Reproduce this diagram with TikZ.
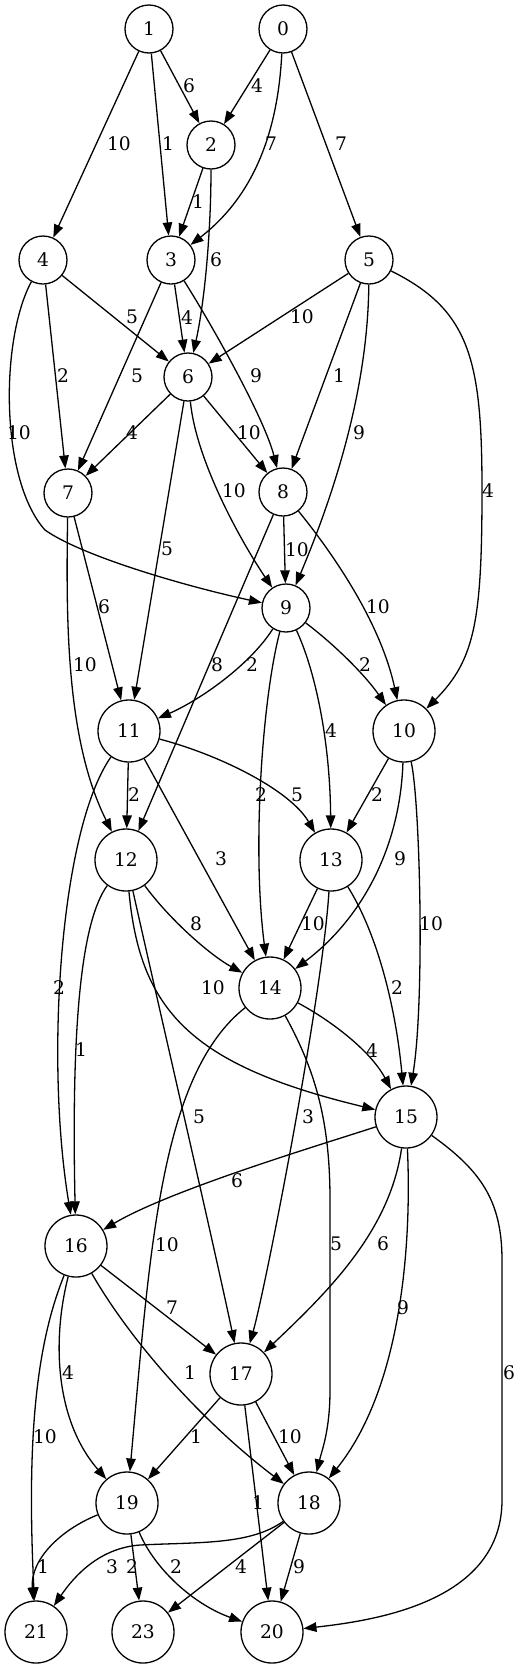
\documentclass[tikz,border=0pt]{standalone}
\usepackage{fontspec}
\setmainfont{DejaVu Serif}
\usetikzlibrary{arrows.meta}

\begin{document}
\begin{tikzpicture}[
    x=1pt,y=-1pt,
    vertex/.style={circle,draw,line width=1.3pt,minimum size=48pt,inner sep=0pt,
                   font=\fontsize{18.67}{22}\selectfont},
    bignode/.style={vertex,minimum size=62pt},
    link/.style={-{Triangle[length=13pt,width=9.5pt]},line width=1.3pt},
    wlbl/.style={inner sep=0pt,font=\fontsize{18.67}{22}\selectfont}
]
    \useasboundingbox (0,0) rectangle (522,1668);

    % Vertices
    \node[vertex] (v1) at (149,29) {1};
    \node[vertex] (v0) at (283,29) {0};
    \node[vertex] (v2) at (211,145) {2};
    \node[vertex] (v4) at (43,260) {4};
    \node[vertex] (v3) at (171,260) {3};
    \node[vertex] (v5) at (369,260) {5};
    \node[vertex] (v6) at (188,377) {6};
    \node[vertex] (v7) at (68,493) {7};
    \node[vertex] (v8) at (283,492) {8};
    \node[vertex] (v9) at (286,608) {9};
    \node[bignode] (v11) at (129,731) {11};
    \node[bignode] (v10) at (404,731) {10};
    \node[bignode] (v12) at (126,860) {12};
    \node[bignode] (v13) at (331,860) {13};
    \node[bignode] (v14) at (270,988) {14};
    \node[bignode] (v15) at (406,1117) {15};
    \node[bignode] (v16) at (76,1246) {16};
    \node[bignode] (v17) at (241,1374) {17};
    \node[bignode] (v19) at (127,1503) {19};
    \node[bignode] (v18) at (309,1503) {18};
    \node[bignode] (v21) at (36,1632) {21};
    \node[bignode] (v23) at (143,1632) {23};
    \node[bignode] (v20) at (272,1632) {20};

    % Edges out of 0, 1, 2
    \draw[link] (v1) -- (v4) node[wlbl] at (119,144) {10};
    \draw[link] (v1) -- (v3) node[wlbl] at (168,144) {1};
    \draw[link] (v1) -- (v2) node[wlbl] at (189,86) {6};
    \draw[link] (v0) -- (v2) node[wlbl] at (257,86) {4};
    \draw[link] (v0) .. controls (278,130) and (255,195) .. (v3) node[wlbl] at (271,144) {7};
    \draw[link] (v0) -- (v5) node[wlbl] at (341,144) {7};
    \draw[link] (v2) -- (v3) node[wlbl] at (198,202) {1};
    \draw[link] (v2) .. controls (211,230) and (205,300) .. (v6) node[wlbl] at (216,260) {6};

    % Edges out of 3, 4, 5
    \draw[link] (v4) -- (v6) node[wlbl] at (132,317) {5};
    \draw[link] (v4) -- (v7) node[wlbl] at (63,376) {2};
    \draw[link] (v4) .. controls (0,340) and (0,480) .. (45,530)
                     .. controls (80,555) and (180,585) .. (v9) node[wlbl] at (19,433) {10};
    \draw[link] (v3) -- (v6) node[wlbl] at (187,318) {4};
    \draw[link] (v3) -- (v7) node[wlbl] at (137,376) {5};
    \draw[link] (v3) .. controls (215,330) and (265,420) .. (v8) node[wlbl] at (256,376) {9};
    \draw[link] (v5) -- (v6) node[wlbl] at (302,317) {10};
    \draw[link] (v5) -- (v8) node[wlbl] at (339,376) {1};
    \draw[link] (v5) .. controls (368,380) and (340,480) .. (v9) node[wlbl] at (359,433) {9};
    \draw[link] (v5) .. controls (470,310) and (482,360) .. (482,490)
                     .. controls (482,620) and (475,660) .. (v10) node[wlbl] at (488,491) {4};

    % Edges out of 6, 7, 8
    \draw[link] (v6) -- (v7) node[wlbl] at (132,433) {4};
    \draw[link] (v6) -- (v8) node[wlbl] at (249,433) {10};
    \draw[link] (v6) .. controls (196,460) and (240,540) .. (v9) node[wlbl] at (234,491) {10};
    \draw[link] (v6) -- (v11) node[wlbl] at (167,549) {5};
    \draw[link] (v7) -- (v11) node[wlbl] at (104,607) {6};
    \draw[link] (v7) .. controls (66,620) and (66,740) .. (v12) node[wlbl] at (85,665) {10};
    \draw[link] (v8) -- (v9) node[wlbl] at (297,550) {10};
    \draw[link] (v8) .. controls (330,550) and (380,620) .. (v10) node[wlbl] at (378,607) {10};
    \draw[link] (v8) -- (v12) node[wlbl] at (217,665) {8};

    % Edges out of 9, 10, 11
    \draw[link] (v9) .. controls (250,665) and (200,700) .. (v11) node[wlbl] at (252,665) {2};
    \draw[link] (v9) .. controls (335,645) and (365,675) .. (v10) node[wlbl] at (365,665) {2};
    \draw[link] (v9) .. controls (262,700) and (252,850) .. (v14) node[wlbl] at (261,795) {2};
    \draw[link] (v9) .. controls (315,670) and (330,740) .. (v13) node[wlbl] at (331,731) {4};
    \draw[link] (v11) -- (v12) node[wlbl] at (134,795) {2};
    \draw[link] (v11) .. controls (220,755) and (290,790) .. (v13) node[wlbl] at (297,795) {5};
    \draw[link] (v11) -- (v14) node[wlbl] at (221,859) {3};
    \draw[link] (v11) .. controls (60,830) and (45,1060) .. (v16) node[wlbl] at (59,988) {2};
    \draw[link] (v10) -- (v13) node[wlbl] at (377,795) {2};
    \draw[link] (v10) .. controls (400,850) and (360,920) .. (v14) node[wlbl] at (400,859) {9};
    \draw[link] (v10) .. controls (420,800) and (425,1000) .. (v15) node[wlbl] at (431,924) {10};

    % Edges out of 12, 13, 14
    \draw[link] (v12) .. controls (170,920) and (210,955) .. (v14) node[wlbl] at (196,924) {8};
    \draw[link] (v12) .. controls (140,1010) and (190,1065) .. (v15) node[wlbl] at (213,988) {10};
    \draw[link] (v12) .. controls (82,920) and (71,1020) .. (v16) node[wlbl] at (81,1050) {1};
    \draw[link] (v12) .. controls (155,990) and (215,1250) .. (v17) node[wlbl] at (199,1117) {5};
    \draw[link] (v13) -- (v14) node[wlbl] at (313,924) {10};
    \draw[link] (v13) .. controls (322,1000) and (265,1290) .. (v17) node[wlbl] at (308,1117) {3};
    \draw[link] (v13) .. controls (375,930) and (395,1000) .. (v15) node[wlbl] at (397,988) {2};
    \draw[link] (v14) .. controls (330,1020) and (370,1050) .. (v15) node[wlbl] at (372,1051) {4};
    \draw[link] (v14) .. controls (160,1075) and (150,1250) .. (v19) node[wlbl] at (167,1245) {10};
    \draw[link] (v14) .. controls (315,1070) and (330,1120) .. (330,1200) -- (330,1390)
                      .. controls (330,1430) and (322,1450) .. (v18) node[wlbl] at (336,1244) {5};

    % Edges out of 15, 16, 17
    \draw[link] (v15) .. controls (320,1145) and (170,1190) .. (v16) node[wlbl] at (237,1181) {6};
    \draw[link] (v15) .. controls (390,1230) and (330,1290) .. (v17) node[wlbl] at (383,1244) {6};
    \draw[link] (v15) .. controls (412,1250) and (400,1390) .. (v18) node[wlbl] at (403,1308) {9};
    \draw[link] (v15) .. controls (480,1170) and (502,1200) .. (502,1260) -- (502,1500)
                      .. controls (502,1600) and (380,1620) .. (v20) node[wlbl] at (509,1373) {6};
    \draw[link] (v16) -- (v17) node[wlbl] at (172,1308) {7};
    \draw[link] (v16) .. controls (130,1340) and (200,1420) .. (v18) node[wlbl] at (190,1373) {1};
    \draw[link] (v16) .. controls (52,1340) and (55,1420) .. (v19) node[wlbl] at (68,1373) {4};
    \draw[link] (v16) .. controls (38,1340) and (26,1430) .. (v21) node[wlbl] at (45,1437) {10};
    \draw[link] (v17) -- (v19) node[wlbl] at (196,1437) {1};
    \draw[link] (v17) -- (v20) node[wlbl] at (258,1503) {1};
    \draw[link] (v17) -- (v18) node[wlbl] at (290,1437) {10};

    % Edges out of 18, 19
    \draw[link] (v19) .. controls (60,1530) and (30,1560) .. (v21) node[wlbl] at (43,1567) {1};
    \draw[link] (v19) -- (v23) node[wlbl] at (132,1567) {2};
    \draw[link] (v19) .. controls (155,1570) and (195,1605) .. (v20) node[wlbl] at (176,1567) {2};
    \draw[link] (v18) .. controls (250,1545) and (200,1542) .. (140,1545)
                      .. controls (100,1548) and (75,1575) .. (v21) node[wlbl] at (112,1567) {3};
    \draw[link] (v18) -- (v23) node[wlbl] at (241,1567) {4};
    \draw[link] (v18) -- (v20) node[wlbl] at (299,1567) {9};
\end{tikzpicture}
\end{document}
